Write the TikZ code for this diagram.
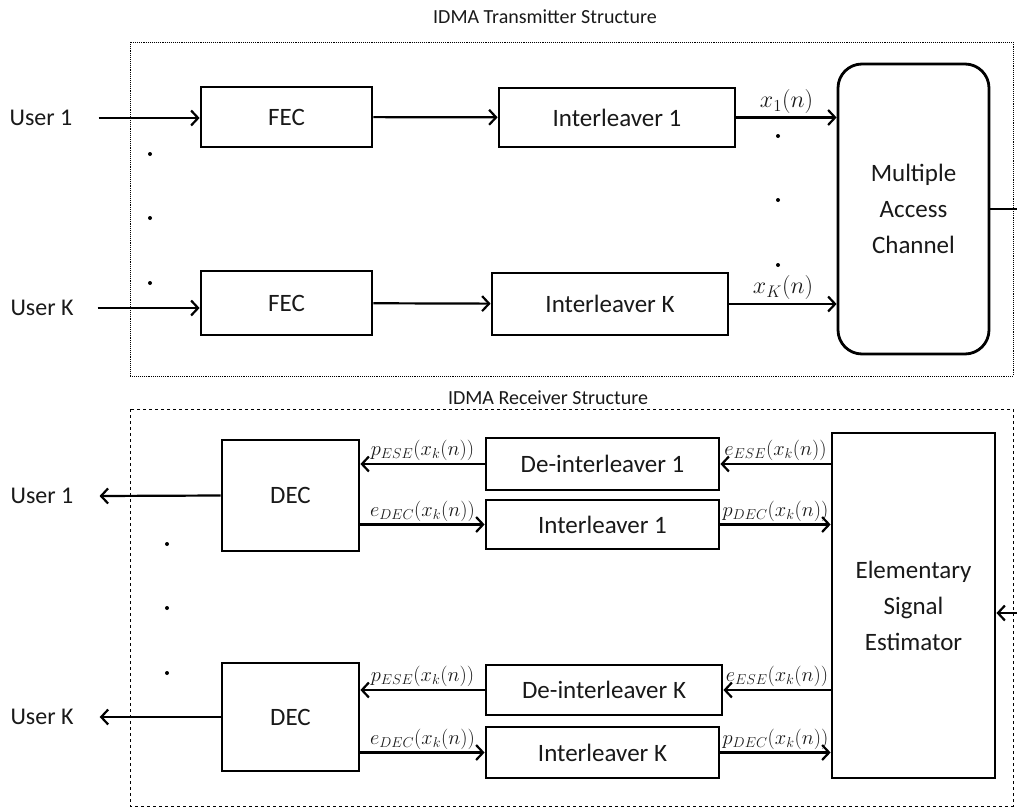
\documentclass[tikz,border=0pt]{standalone}
\usepackage{fix-cm}
\usepackage{amsmath}
\usepackage{fontspec}
\setmainfont{Carlito}
\usetikzlibrary{calc}
\usetikzlibrary{positioning}
\usetikzlibrary{arrows.meta}

\begin{document}
\begin{tikzpicture}[x=1pt,y=-1pt,
  every node/.style={inner sep=0pt,text=black!90},
  blk/.style={draw=black,line width=2.8pt,align=center,font=\fontsize{25}{36}\selectfont},
  usr/.style={font=\fontsize{24}{28}\selectfont},
  ttl/.style={font=\fontsize{20}{24}\selectfont},
  ar/.style={line width=2.2pt,-{Straight Barb[length=7pt,width=15pt,line width=2.2pt]}},
  sig/.style={above=3pt,font=\fontsize{24}{28}\selectfont},
  rsig/.style={above=2pt,font=\fontsize{20.5}{24}\selectfont}]
\useasboundingbox (0,0) rectangle (1017,808);

% transmitter
\draw[densely dotted,line width=0.9pt] (130,42) rectangle (1013,376);
\node[ttl] (txt) at (545,17) {IDMA Transmitter Structure};

\node[usr] (u1) at (41,118) {User 1};
\node[usr] (uk) at (42,308) {User K};
\node[blk,minimum width=171pt,minimum height=60pt] (fec1) at (286.5,117) {FEC};
\node[blk,minimum width=171pt,minimum height=64pt] (feck) at (286.5,303) {FEC};
\node[blk,minimum width=236pt,minimum height=59pt] (int1) at (617,117.5) {Interleaver 1};
\node[blk,minimum width=236pt,minimum height=62pt] (intk) at (610,304) {Interleaver K};
\node[blk,minimum width=151pt,minimum height=290pt,rounded corners=24pt] (mac) at (913.5,209) {Multiple\\Access\\Channel};
\coordinate (txout) at (1017,209);

\draw[ar] ([xshift=26pt]u1.east) -- (fec1.west |- u1.east);
\draw[ar] ([xshift=24pt]uk.east) -- (feck.west |- uk.east);
\draw[ar] (fec1) -- (int1);
\draw[ar] (feck) -- (intk);
\draw[ar] (int1.east) -- (mac.west |- int1.east) node[midway,sig] {$x_1(n)$};
\draw[ar] (intk.east) -- (mac.west |- intk.east) node[midway,sig] {$x_K(n)$};
\draw[line width=1.5pt] (mac.east |- txout) -- (txout);

\foreach \y in {154,218,283} \fill (150,\y) circle (2pt);
\foreach \y in {136,200,265} \fill (778,\y) circle (2pt);

% receiver
\draw[dashed,line width=0.9pt] (130,409) rectangle (1013,806);
\node[ttl] (rxt) at (548,398) {IDMA Receiver Structure};

\node[usr] (ur1) at (42,496) {User 1};
\node[usr] (urk) at (42,717) {User K};
\node[blk,minimum width=137pt,minimum height=111pt] (dec1) at (290.5,495.5) {DEC};
\node[blk,minimum width=137pt,minimum height=108pt] (deck) at (290.5,717) {DEC};
\node[blk,minimum width=233pt,minimum height=52pt] (deint1) at (602.5,464) {De-interleaver 1};
\node[blk,minimum width=233pt,minimum height=49pt] (rint1) at (602.5,524.5) {Interleaver 1};
\node[blk,minimum width=236pt,minimum height=50pt] (deintk) at (604,690) {De-interleaver K};
\node[blk,minimum width=233pt,minimum height=51pt] (rintk) at (602.5,752.5) {Interleaver K};
\node[blk,minimum width=163pt,minimum height=345pt] (ese) at (913.5,605.5) {Elementary\\Signal\\Estimator};
\coordinate (rxin) at (1017,613);

\draw[ar] (dec1.west) -- ([xshift=26pt]ur1.east);
\draw[ar] (deck.west) -- ([xshift=26pt]urk.east);
\draw[ar] (ese.west |- deint1.east) -- (deint1.east) node[midway,rsig] {$e_{ESE}(x_k(n))$};
\draw[ar] (deint1.west) -- (dec1.east |- deint1.west) node[midway,rsig] {$p_{ESE}(x_k(n))$};
\draw[ar] (dec1.east |- rint1.west) -- (rint1.west) node[midway,rsig] {$e_{DEC}(x_k(n))$};
\draw[ar] (rint1.east) -- (ese.west |- rint1.east) node[midway,rsig] {$p_{DEC}(x_k(n))$};
\draw[ar] (ese.west |- deintk.east) -- (deintk.east) node[midway,rsig] {$e_{ESE}(x_k(n))$};
\draw[ar] (deintk.west) -- (deck.east |- deintk.west) node[midway,rsig] {$p_{ESE}(x_k(n))$};
\draw[ar] (deck.east |- rintk.west) -- (rintk.west) node[midway,rsig] {$e_{DEC}(x_k(n))$};
\draw[ar] (rintk.east) -- (ese.west |- rintk.east) node[midway,rsig] {$p_{DEC}(x_k(n))$};
\draw[ar] (rxin) -- (ese.east |- rxin);

\foreach \y in {544,608,673} \fill (167,\y) circle (2pt);
\end{tikzpicture}
\end{document}
